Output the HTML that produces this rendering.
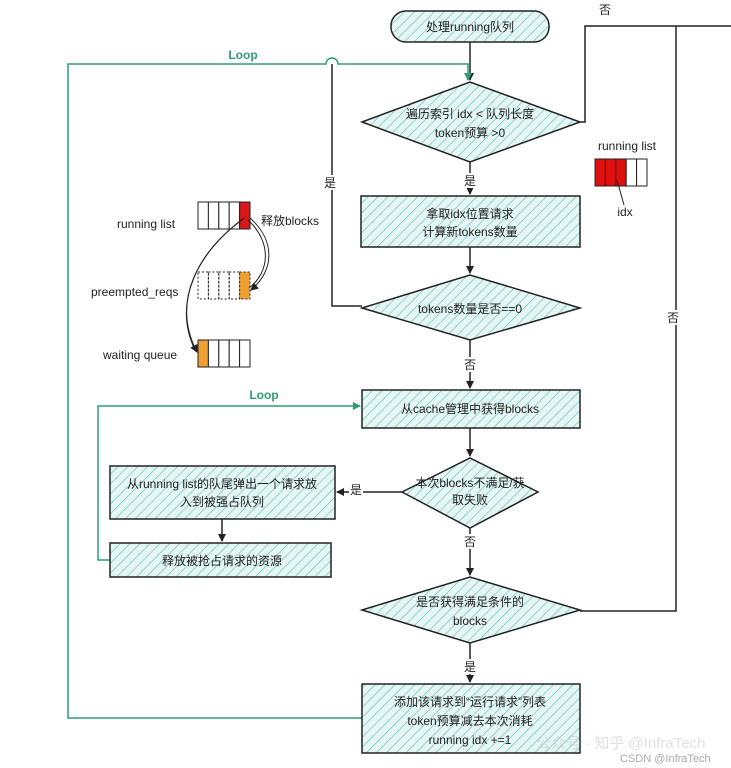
<!DOCTYPE html>
<html><head><meta charset="utf-8"><style>
html,body{margin:0;padding:0;background:#fff;}
svg{display:block;font-family:"Liberation Sans","Noto Sans CJK SC",sans-serif;}
</style></head><body>
<svg width="731" height="768" viewBox="0 0 731 768" xmlns="http://www.w3.org/2000/svg">
<defs>
<pattern id="h" width="7" height="7" patternUnits="userSpaceOnUse" patternTransform="rotate(45)">
<rect width="7" height="7" fill="#e6f6f4"/>
<line x1="0" y1="0" x2="0" y2="7" stroke="#6cc5bb" stroke-width="1.4"/>
</pattern>
<marker id="a" markerWidth="8" markerHeight="8" refX="7" refY="4" orient="auto" markerUnits="userSpaceOnUse"><path d="M0,0 L8,4 L0,8 z" fill="#222"/></marker>
<marker id="g" markerWidth="8" markerHeight="8" refX="7" refY="4" orient="auto" markerUnits="userSpaceOnUse"><path d="M0,0 L8,4 L0,8 z" fill="#2e9c78"/></marker>
</defs>
<g stroke="#222" stroke-width="1.5" fill="none">
<line x1="470" y1="42" x2="470" y2="80" marker-end="url(#a)"/>
<line x1="470" y1="162" x2="470" y2="194" marker-end="url(#a)"/>
<line x1="470" y1="247" x2="470" y2="273" marker-end="url(#a)"/>
<line x1="470" y1="340" x2="470" y2="388" marker-end="url(#a)"/>
<line x1="470" y1="428" x2="470" y2="456" marker-end="url(#a)"/>
<line x1="470" y1="528" x2="470" y2="575" marker-end="url(#a)"/>
<line x1="470" y1="643" x2="470" y2="682" marker-end="url(#a)"/>
<path d="M362,306 L332,306 L332,64"/>
<line x1="402" y1="492" x2="337" y2="492" marker-end="url(#a)"/>
<line x1="222" y1="519" x2="222" y2="541" marker-end="url(#a)"/>
<path d="M580,122 L585,122 L585,26 L731,26"/>
<path d="M580,611 L676,611 L676,26"/>
</g>
<g stroke="#2e9c78" stroke-width="1.5" fill="none">
<path d="M362,718 L68,718 L68,64 L326,64 A6,6 0 0 1 338,64 L468,64 L468,80" marker-end="url(#g)"/>
<path d="M110,560 L98,560 L98,406 L360,406" marker-end="url(#g)"/>
</g>
<g stroke="#222" stroke-width="1.5" fill="url(#h)">
<rect x="391" y="11" width="158" height="31" rx="15"/>
<polygon points="362,122 470,82 580,122 470,162"/>
<rect x="361" y="196" width="219" height="51"/>
<polygon points="362,308 470,275 580,308 470,340"/>
<rect x="362" y="390" width="218" height="38"/>
<polygon points="402,492 470,458 538,492 470,528"/>
<rect x="110" y="466" width="225" height="53"/>
<rect x="110" y="543" width="221" height="34"/>
<polygon points="362,610 470,577 580,610 470,643"/>
<rect x="362" y="684" width="218" height="69"/>
</g>
<g fill="#fff">
<rect x="463" y="173" width="14" height="15"/>
<rect x="463" y="357" width="14" height="15"/>
<rect x="463" y="534" width="14" height="15"/>
<rect x="463" y="659" width="14" height="15"/>
<rect x="349" y="482" width="14" height="15"/>
<rect x="323" y="175" width="16" height="15"/>
<rect x="666" y="310" width="16" height="15"/>
</g>
<g font-size="12" fill="#222" text-anchor="middle">
<text x="470" y="31">处理running队列</text>
<text x="470" y="118">遍历索引 idx &lt; 队列长度</text>
<text x="470" y="137">token预算 &gt;0</text>
<text x="470" y="185">是</text>
<text x="470" y="218">拿取idx位置请求</text>
<text x="470" y="236">计算新tokens数量</text>
<text x="470" y="313">tokens数量是否==0</text>
<text x="470" y="369">否</text>
<text x="470" y="413">从cache管理中获得blocks</text>
<text x="470" y="487">本次blocks不满足/获</text>
<text x="470" y="504">取失败</text>
<text x="356" y="494">是</text>
<text x="470" y="546">否</text>
<text x="222" y="488">从running list的队尾弹出一个请求放</text>
<text x="222" y="506">入到被强占队列</text>
<text x="222" y="565">释放被抢占请求的资源</text>
<text x="470" y="606">是否获得满足条件的</text>
<text x="470" y="625">blocks</text>
<text x="470" y="671">是</text>
<text x="470" y="706">添加该请求到“运行请求”列表</text>
<text x="470" y="725">token预算减去本次消耗</text>
<text x="470" y="744">running idx +=1</text>
<text x="330" y="187">是</text>
<text x="605" y="14">否</text>
<text x="673" y="322">否</text>
</g>
<g font-size="12" font-weight="bold" fill="#2e9c78" text-anchor="middle">
<text x="243" y="59">Loop</text>
<text x="264" y="399">Loop</text>
</g>
<g stroke="#222" stroke-width="1">
<rect x="595" y="159" width="10.4" height="27" fill="#e01010"/>
<rect x="605.4" y="159" width="10.4" height="27" fill="#e01010"/>
<rect x="615.8" y="159" width="10.4" height="27" fill="#e01010"/>
<rect x="626.2" y="159" width="10.4" height="27" fill="#fff"/>
<rect x="636.6" y="159" width="10.4" height="27" fill="#fff"/>
<line x1="617" y1="180" x2="624" y2="205"/>
</g>
<text x="627" y="150" font-size="12" text-anchor="middle" fill="#222">running list</text>
<text x="625" y="216" font-size="12" text-anchor="middle" fill="#222">idx</text>
<g stroke="#222" stroke-width="1" fill="#fff">
<rect x="198" y="202" width="10.4" height="27"/><rect x="208.4" y="202" width="10.4" height="27"/><rect x="218.8" y="202" width="10.4" height="27"/><rect x="229.2" y="202" width="10.4" height="27"/><rect x="239.6" y="202" width="10.4" height="27" fill="#d81818"/>
</g>
<g stroke="#222" stroke-width="1" fill="none" stroke-dasharray="2,2">
<rect x="198" y="272" width="10.4" height="27"/><rect x="208.4" y="272" width="10.4" height="27"/><rect x="218.8" y="272" width="10.4" height="27"/><rect x="229.2" y="272" width="10.4" height="27"/><rect x="239.6" y="272" width="10.4" height="27" fill="#f0a030"/>
</g>
<g stroke="#222" stroke-width="1" fill="#fff">
<rect x="198" y="340" width="10.4" height="27" fill="#f0a030"/><rect x="208.4" y="340" width="10.4" height="27"/><rect x="218.8" y="340" width="10.4" height="27"/><rect x="229.2" y="340" width="10.4" height="27"/><rect x="239.6" y="340" width="10.4" height="27"/>
</g>
<g stroke="#222" stroke-width="1" fill="none">
<path d="M250,218 C275,240 275,270 251,290" marker-end="url(#a)"/>
<path d="M248,220 C272,242 270,272 249,288"/>
<path d="M244,218 C200,250 170,300 197,352" marker-end="url(#a)"/>
<path d="M242,220 C198,252 172,302 195,350"/>
</g>
<g font-size="12" fill="#222">
<text x="117" y="228">running list</text>
<text x="261" y="225">释放blocks</text>
<text x="91" y="296">preempted_reqs</text>
<text x="103" y="359">waiting queue</text>
</g>
<g font-size="15" fill="#ccc" opacity="0.6">
<text x="536" y="748">公众号 · 知乎 @InfraTech</text>
</g>
<text x="620" y="762" font-size="11" fill="#aaa">CSDN @InfraTech</text>
</svg>
</body></html>
